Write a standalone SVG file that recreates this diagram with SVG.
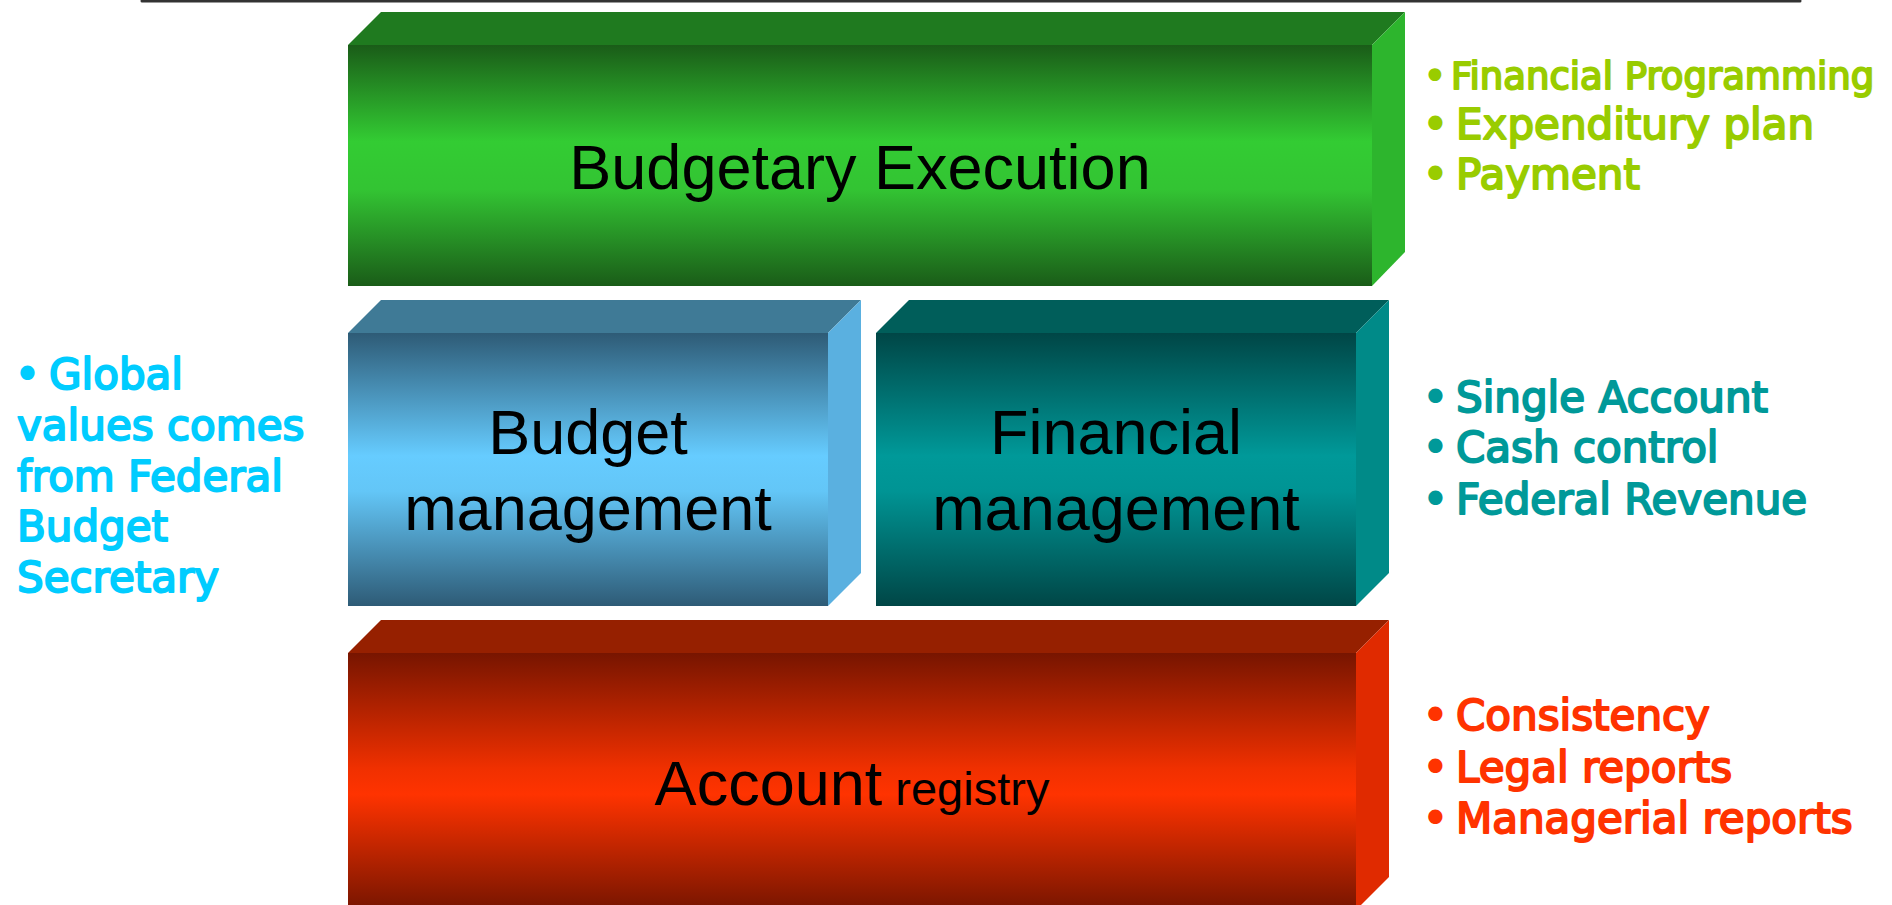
<svg xmlns="http://www.w3.org/2000/svg" width="1892" height="905" viewBox="0 0 1892 905">
<style>
.lbl{font-family:"Liberation Sans",Arial,sans-serif;font-size:63px;fill:#000}
.bul{font-family:"DejaVu Sans","Open Sans",sans-serif;font-weight:400;stroke-width:2px;stroke-linejoin:round}
.g{fill:#99cc00;stroke:#99cc00}.t{fill:#009999;stroke:#009999}.r{fill:#ff3300;stroke:#ff3300}.c{fill:#00ccff;stroke:#00ccff}
</style>
<defs>
<linearGradient id="gG" x1="0" y1="0" x2="0" y2="1"><stop offset="0" stop-color="#1a5c18"/><stop offset="0.4" stop-color="#33cc33"/><stop offset="0.6" stop-color="#33c433"/><stop offset="1" stop-color="#1a5c18"/></linearGradient>
<linearGradient id="gB" x1="0" y1="0" x2="0" y2="1"><stop offset="0" stop-color="#2e5b76"/><stop offset="0.45" stop-color="#66ccff"/><stop offset="0.58" stop-color="#63c6f7"/><stop offset="1" stop-color="#2e5b76"/></linearGradient>
<linearGradient id="gT" x1="0" y1="0" x2="0" y2="1"><stop offset="0" stop-color="#004646"/><stop offset="0.45" stop-color="#009999"/><stop offset="0.58" stop-color="#009494"/><stop offset="1" stop-color="#004646"/></linearGradient>
<linearGradient id="gR" x1="0" y1="0" x2="0" y2="1"><stop offset="0" stop-color="#771500"/><stop offset="0.45" stop-color="#f03000"/><stop offset="0.55" stop-color="#ff3300"/><stop offset="1" stop-color="#771500"/></linearGradient>
</defs>
<rect x="0" y="0" width="1892" height="905" fill="#fff"/>
<line x1="142" y1="1" x2="1800" y2="1" stroke="#333" stroke-width="3" stroke-linecap="round"/>

<g id="budgetary-execution">
<polygon points="348,45 381,12 1405,12 1372,45" fill="#1f7a1f"/>
<polygon points="1372,45 1405,12 1405,252 1372,286" fill="#2db52d"/>
<rect x="348" y="45" width="1024" height="241" fill="url(#gG)"/>
<text class="lbl" x="860" y="189" text-anchor="middle">Budgetary Execution</text>
</g>

<g id="budget-management">
<polygon points="348,333 381,300 861,300 828,333" fill="#3f7a96"/>
<polygon points="828,333 861,300 861,573 828,606" fill="#5ab0e0"/>
<rect x="348" y="333" width="480" height="273" fill="url(#gB)"/>
<text class="lbl" x="588" y="454" text-anchor="middle">Budget</text>
<text class="lbl" x="588" y="530" text-anchor="middle">management</text>
</g>

<g id="financial-management">
<polygon points="876,333 909,300 1389,300 1356,333" fill="#005e5a"/>
<polygon points="1356,333 1389,300 1389,573 1356,606" fill="#008a88"/>
<rect x="876" y="333" width="480" height="273" fill="url(#gT)"/>
<text class="lbl" x="1116" y="454" text-anchor="middle">Financial</text>
<text class="lbl" x="1116" y="530" text-anchor="middle">management</text>
</g>

<g id="account-registry">
<polygon points="348,653 381,620 1389,620 1356,653" fill="#962000"/>
<polygon points="1356,653 1389,620 1389,877 1356,910" fill="#e02a00"/>
<rect x="348" y="653" width="1008" height="257" fill="url(#gR)"/>
<text class="lbl" x="852" y="805" text-anchor="middle">Account<tspan font-size="47px"> registry</tspan></text>
</g>

<g id="execution-notes" class="bul g">
<text y="89" font-size="37px"><tspan x="1424">•</tspan><tspan x="1451">Financial Programming</tspan></text>
<text y="139" font-size="42px"><tspan x="1423">•</tspan><tspan x="1456">Expenditury plan</tspan></text>
<text y="189" font-size="42px"><tspan x="1423">•</tspan><tspan x="1456">Payment</tspan></text>
</g>

<g id="financial-notes" class="bul t">
<text y="412" font-size="42px"><tspan x="1423">•</tspan><tspan x="1456">Single Account</tspan></text>
<text y="462" font-size="42px"><tspan x="1423">•</tspan><tspan x="1456">Cash control</tspan></text>
<text y="514" font-size="42px"><tspan x="1423">•</tspan><tspan x="1456">Federal Revenue</tspan></text>
</g>

<g id="account-notes" class="bul r">
<text y="730" font-size="42px"><tspan x="1423">•</tspan><tspan x="1456">Consistency</tspan></text>
<text y="782" font-size="42px"><tspan x="1423">•</tspan><tspan x="1456">Legal reports</tspan></text>
<text y="833" font-size="42px"><tspan x="1423">•</tspan><tspan x="1456">Managerial reports</tspan></text>
</g>

<g id="budget-notes" class="bul c" font-size="42px">
<text y="389"><tspan x="15">•</tspan><tspan x="49">Global</tspan></text>
<text x="17" y="440">values comes</text>
<text x="17" y="491">from Federal</text>
<text x="17" y="541">Budget</text>
<text x="17" y="592">Secretary</text>
</g>
</svg>
